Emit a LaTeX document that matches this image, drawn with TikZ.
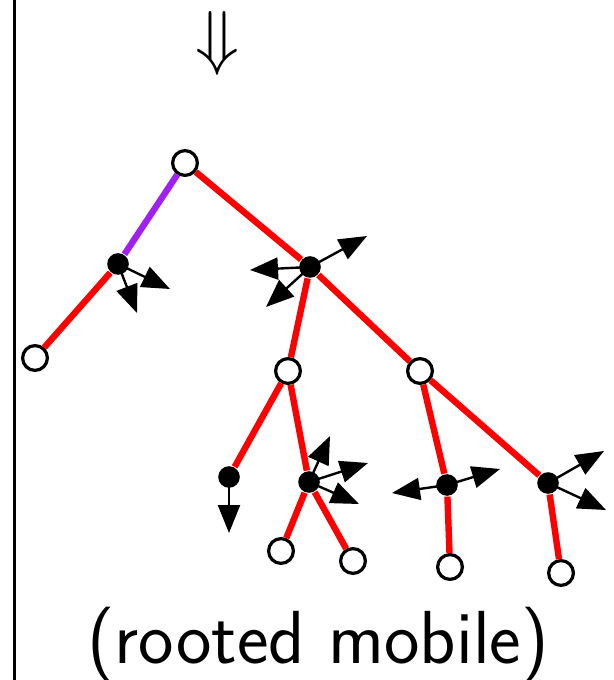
\documentclass[tikz,border=0pt]{standalone}
\usepackage{amsmath}
\usepackage{amssymb}
\usepackage{tikz}
\usepackage{xcolor}
\usetikzlibrary{arrows.meta}
\definecolor{mobile-purple}{RGB}{160,32,240}
\tikzset{
    white-vertex/.style = {draw=black, fill=white, circle, line width=0.8pt, minimum size=6.2pt, inner sep=0pt},
    black-vertex/.style = {fill=black, circle, minimum size=5.4pt, inner sep=0pt},
    red-edge/.style = {draw=red, line width=1.6pt},
    purple-edge/.style = {draw=mobile-purple, line width=1.6pt},
    flow-arrow/.style = {draw=black, line width=0.6pt, -{Triangle[length=7pt,width=5.5pt]}},
}

\begin{document}
\begin{tikzpicture}[x=0.25pt, y=-0.25pt]
\useasboundingbox (0,0) rectangle (613,680);
\draw[line width=0.75pt] (14,0) -- (14,680);
\node[scale=1.8, inner sep=0pt] (down) at (217,44) {$\Downarrow$};

% vertices of the mobile
\node[white-vertex] (root) at (185,163) {};
\node[black-vertex] (a) at (118,264) {};
\node[white-vertex] (a1) at (35,358) {};
\node[black-vertex] (b) at (310,267) {};
\node[white-vertex] (c) at (288,371) {};
\node[white-vertex] (d) at (420,371) {};
\node[black-vertex] (e) at (229,477) {};
\node[black-vertex] (f) at (309,482) {};
\node[white-vertex] (f1) at (281,551) {};
\node[white-vertex] (f2) at (353,561) {};
\node[black-vertex] (g) at (447,485) {};
\node[white-vertex] (g1) at (450,567) {};
\node[black-vertex] (h) at (548,483) {};
\node[white-vertex] (h1) at (561,573) {};

% edges
\draw[purple-edge] (root) -- (a);
\draw[red-edge] (a) -- (a1);
\draw[red-edge] (root) -- (b);
\draw[red-edge] (b) -- (c);
\draw[red-edge] (b) -- (d);
\draw[red-edge] (c) -- (e);
\draw[red-edge] (c) -- (f);
\draw[red-edge] (f) -- (f1);
\draw[red-edge] (f) -- (f2);
\draw[red-edge] (d) -- (g);
\draw[red-edge] (d) -- (h);
\draw[red-edge] (g) -- (g1);
\draw[red-edge] (h) -- (h1);

% arrow tips
\coordinate (a-t1) at (137,313);
\coordinate (a-t2) at (170,289);
\coordinate (b-t1) at (250,270);
\coordinate (b-t2) at (367,236);
\coordinate (b-t3) at (266,307);
\coordinate (e-t1) at (229,533);
\coordinate (f-t1) at (330,436);
\coordinate (f-t2) at (368,463);
\coordinate (f-t3) at (359,504);
\coordinate (g-t1) at (392,493);
\coordinate (g-t2) at (500,469);
\coordinate (h-t1) at (604,451);
\coordinate (h-t2) at (606,510);

\foreach \v/\t in {a/a-t1, a/a-t2, b/b-t1, b/b-t2, b/b-t3, e/e-t1, f/f-t1, f/f-t2, f/f-t3, g/g-t1, g/g-t2, h/h-t1, h/h-t2}
    \draw[flow-arrow] (\v.center) -- (\t);

\node[anchor=base, font=\sffamily\fontsize{18.8}{22}\selectfont] (caption) at (318,663) {(rooted mobile)};
\end{tikzpicture}
\end{document}
